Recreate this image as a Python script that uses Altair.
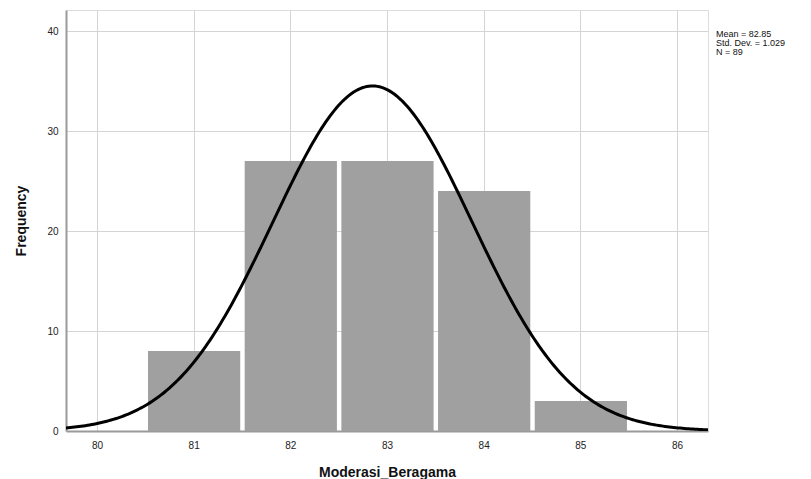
import altair as alt
import numpy as np
import pandas as pd

# Histogram data
scores = [81, 82, 83, 84, 85]
frequencies = [8, 27, 27, 24, 3]

# Stated statistics
mean_val = 82.85
sd_val = 1.029
n_val = 89
stats_lines = ["Mean = 82.85", "Std. Dev. = 1.029", "N = 89"]

x_ticks = [80, 81, 82, 83, 84, 85, 86]
y_ticks = [0, 10, 20, 30, 40]

X_DOMAIN = [79.68, 86.32]
Y_DOMAIN = [0, 42.1]
FONT = "Liberation Sans"

bars_df = pd.DataFrame({"score": scores, "freq": frequencies})
bars_df["lo"] = bars_df["score"] - 0.5 + 0.028
bars_df["hi"] = bars_df["score"] + 0.5 - 0.018

# Normal curve from stated mean / sd / N (bin width 1)
xs = np.linspace(X_DOMAIN[0], X_DOMAIN[1], 300)
ys = n_val * np.exp(-0.5 * ((xs - mean_val) / sd_val) ** 2) / (sd_val * np.sqrt(2 * np.pi))
curve_df = pd.DataFrame({"x": xs, "y": ys})

x_scale = alt.Scale(domain=X_DOMAIN, nice=False, zero=False)
y_scale = alt.Scale(domain=Y_DOMAIN, nice=False)

x_axis = alt.Axis(values=x_ticks, title="Moderasi_Beragama", grid=True, gridColor="#d4d4d4",
                  gridWidth=1, domainColor="#9a9a9a", domainWidth=2, ticks=False,
                  labelFont=FONT, labelFontSize=10, labelColor="#222", labelPadding=9,
                  titleFont=FONT, titleFontSize=14, titleFontWeight="bold", titleColor="#111",
                  titlePadding=15, format="d")
y_axis = alt.Axis(values=y_ticks, title="Frequency", grid=True, gridColor="#d4d4d4",
                  gridWidth=1, domainColor="#9a9a9a", domainWidth=2, ticks=False,
                  labelFont=FONT, labelFontSize=10, labelColor="#222", labelPadding=8,
                  titleFont=FONT, titleFontSize=14, titleFontWeight="bold", titleColor="#111",
                  titlePadding=18)

bars = alt.Chart(bars_df).mark_bar(color="#a0a0a0").encode(
    x=alt.X("lo:Q", scale=x_scale, axis=x_axis),
    x2="hi:Q",
    y=alt.Y("freq:Q", scale=y_scale, axis=y_axis),
    y2=alt.datum(0),
)

curve = alt.Chart(curve_df).mark_line(color="black", strokeWidth=3, clip=True).encode(
    x=alt.X("x:Q", scale=x_scale, axis=x_axis),
    y=alt.Y("y:Q", scale=y_scale, axis=y_axis),
)

stats_df = pd.DataFrame({"line": stats_lines, "i": list(range(len(stats_lines)))})
stats = alt.Chart(stats_df).mark_text(
    align="left", baseline="middle", font=FONT, fontSize=9, color="#111"
).encode(
    x=alt.value(650),
    y=alt.Y("i:Q", scale=alt.Scale(domain=[0, 2], range=[24, 42]), axis=None),
    text="line:N",
)

chart = alt.layer(alt.layer(bars, curve), stats).resolve_scale(y="independent").properties(
    width=642, height=421,
    autosize=alt.AutoSizeParams(type="none"),
    padding={"left": 66, "top": 10, "right": 103, "bottom": 48},
).configure_view(stroke=None).configure(background="white")

chart.save("out.html", embed_options={"renderer": "svg", "actions": False})
